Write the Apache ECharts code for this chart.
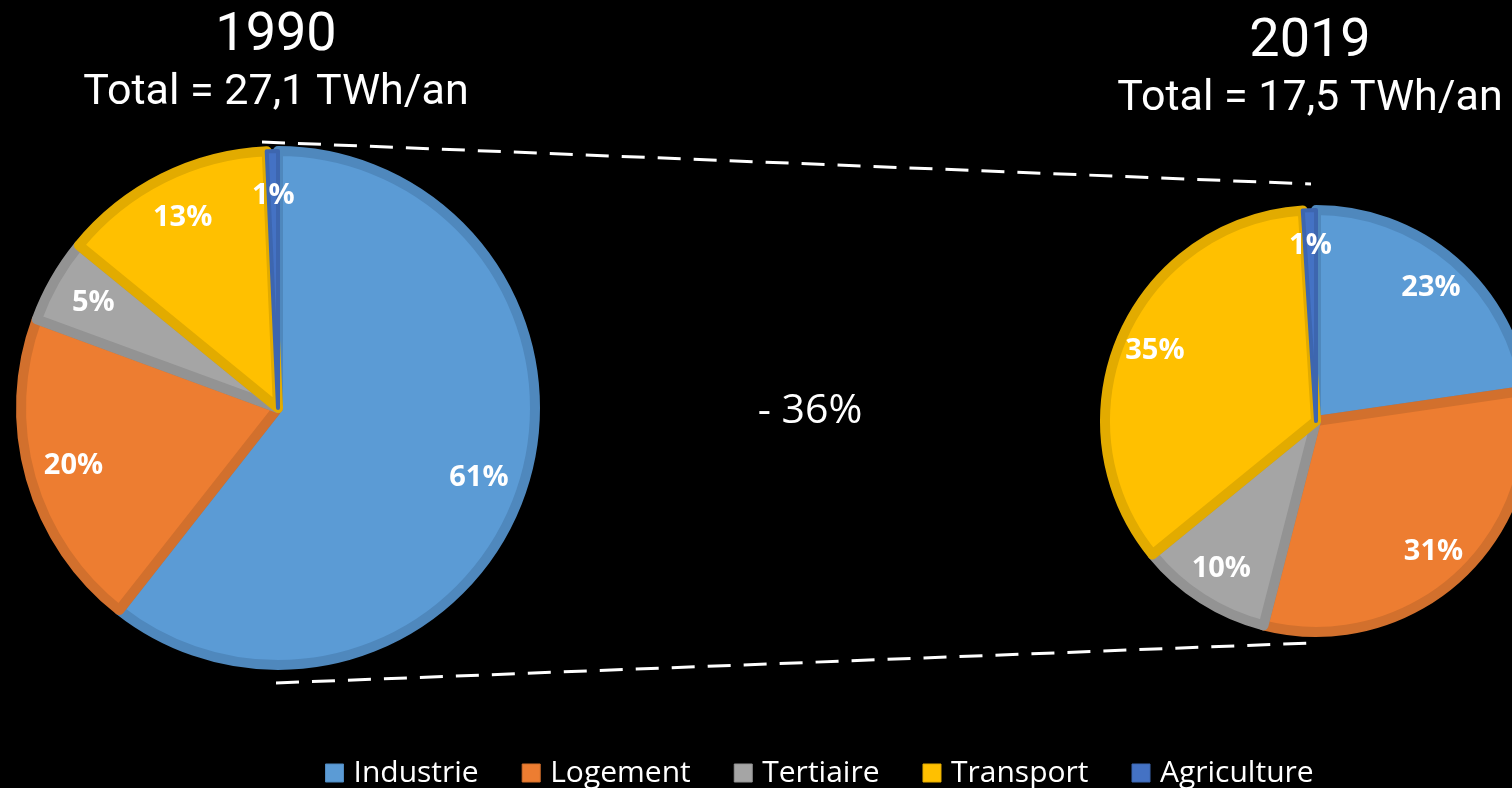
<!DOCTYPE html>
<html>
<head>
<meta charset="utf-8">
<script src="https://cdn.jsdelivr.net/npm/echarts@6/dist/echarts.min.js"></script>
<style>
  html, body { margin: 0; padding: 0; background: #000; }
  #chart { width: 1512px; height: 788px; }
</style>
</head>
<body>
<div id="chart"></div>
<script>
const categories = ['Industrie', 'Logement', 'Tertiaire', 'Transport', 'Agriculture'];
// shares in % (labels show them rounded)
const values1990 = [60.6, 20.0, 5.3, 13.4, 0.7];
const values2019 = [22.7, 31.3, 10.1, 34.9, 1.0];
const years = ['1990', '2019'];
const totals = ['Total = 27,1 TWh/an', 'Total = 17,5 TWh/an'];
const changeLabel = '- 36%';

const fills = ['#5B9BD5', '#ED7D31', '#A5A5A5', '#FFC000', '#4472C4'];
const borders = ['#4F88BD', '#D2702D', '#939393', '#E2AB00', '#3D66AF'];

// pie geometry (visible radius, stroke sits half outside)
const BW = 10;
const left = { cx: 278, cy: 408, r: 262 };
const right = { cx: 1316, cy: 421, r: 216 };

const chart = echarts.init(document.getElementById('chart'));

const makeData = vals => categories.map((name, i) => ({
  name,
  value: vals[i],
  itemStyle: {
    color: fills[i],
    borderColor: borders[i],
    // thin slivers would be swallowed by a wide stroke
    borderWidth: vals[i] < 2 ? 4 : BW
  }
}));

const pieSeries = (vals, g) => ({
  type: 'pie',
  center: [g.cx, g.cy],
  radius: [0, g.r - BW / 2],
  startAngle: 90,
  clockwise: true,
  silent: true,
  itemStyle: { borderJoin: 'round' },
  label: { show: false },
  labelLine: { show: false },
  emphasis: { disabled: true },
  data: makeData(vals)
});

// transparent ring used only to place labels near the rim
const labelSeries = (vals, g) => ({
  type: 'pie',
  center: [g.cx, g.cy],
  radius: [g.r * 0.6, g.r],
  startAngle: 90,
  clockwise: true,
  silent: true,
  itemStyle: { color: 'transparent', borderWidth: 0 },
  label: {
    show: true,
    position: 'inside',
    formatter: p => Math.round(p.value) + '%',
    color: '#fff',
    fontFamily: 'Open Sans',
    fontWeight: 'bold',
    fontSize: 29
  },
  labelLine: { show: false },
  emphasis: { disabled: true },
  legendHoverLink: false,
  data: categories.map((name, i) => ({ name, value: vals[i] }))
});

const textEl = (text, x, y, size, family) => ({
  type: 'text',
  x, y,
  silent: true,
  style: {
    text,
    fill: '#fff',
    font: `${size}px ${family}`,
    textAlign: 'center',
    textVerticalAlign: 'middle'
  }
});

const dashStyle = { stroke: '#fff', lineWidth: 3, lineDash: [23, 13] };

const option = {
  backgroundColor: '#000',
  animation: false,
  legend: {
    data: categories,
    left: 320,
    top: 753,
    icon: 'rect',
    itemWidth: 18,
    itemHeight: 18,
    itemGap: 43,
    itemStyle: { borderWidth: 1 },
    textStyle: { color: '#fff', fontFamily: 'Open Sans', fontSize: 30, padding: [0, 0, 0, 5] }
  },
  graphic: [
    textEl(years[0], 276, 36, 54, 'Roboto'),
    textEl(totals[0], 276, 93, 43, 'Roboto'),
    textEl(years[1], 1310, 42, 54, 'Roboto'),
    textEl(totals[1], 1310, 99, 43, 'Roboto'),
    textEl(changeLabel, 810, 411, 41, 'Open Sans'),
    {
      type: 'line', silent: true,
      shape: { x1: left.cx - 16, y1: left.cy - left.r - 4, x2: right.cx - 5, y2: right.cy - right.r - 21 },
      style: dashStyle
    },
    {
      type: 'line', silent: true,
      shape: { x1: left.cx - 2, y1: left.cy + left.r + 13, x2: right.cx - 6, y2: right.cy + right.r + 6 },
      style: dashStyle
    }
  ],
  series: [
    pieSeries(values1990, left),
    pieSeries(values2019, right),
    labelSeries(values1990, left),
    labelSeries(values2019, right)
  ]
};

chart.setOption(option);
</script>
</body>
</html>
